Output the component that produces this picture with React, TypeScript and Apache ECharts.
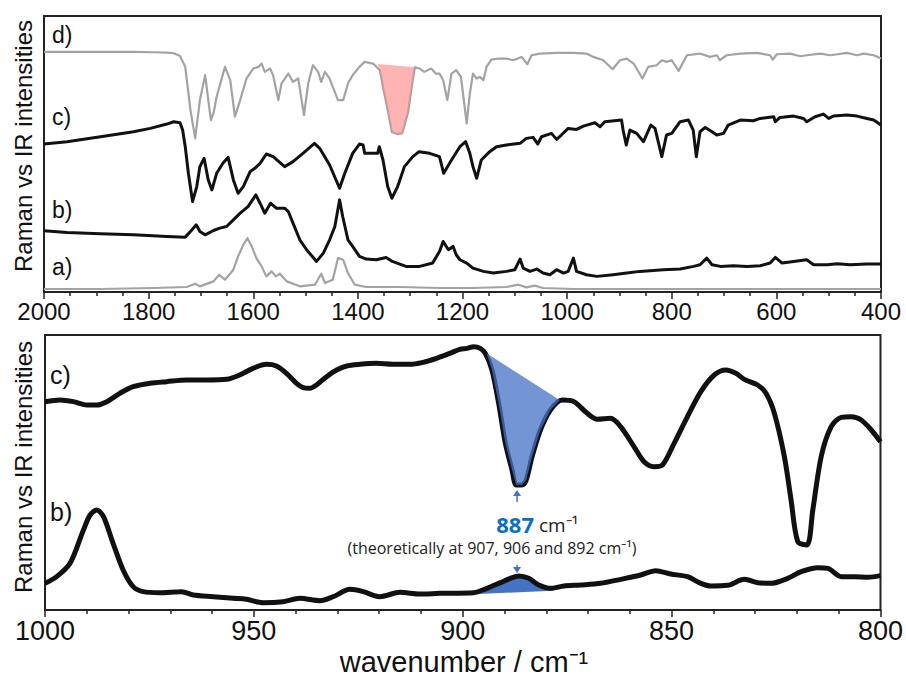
import React, { useEffect, useRef } from "react";
import * as echarts from "echarts";

// ---------- top panel (2000-400 cm-1), arbitrary intensity units ----------
const TOP_X_TICKS = { min: 400, max: 2000, interval: 200 };
const BOTTOM_X_TICKS = { min: 800, max: 1000, interval: 50 };

const topD: [number, number][] = [
  [2000,722],[1900,722],[1828,722],[1790,721],[1765,720],[1752,718],[1740,710],[1730,677],[1720,547],[1711,462],
  [1702,577],[1692,652],[1681,517],[1676,537],[1670,587],[1654,677],[1644,637],[1635,527],[1625,577],[1613,642],
  [1600,672],[1590,677],[1584,687],[1578,662],[1568,672],[1562,652],[1552,577],[1546,627],[1533,657],[1524,632],
  [1514,642],[1503,532],[1495,627],[1486,682],[1476,662],[1470,632],[1463,662],[1454,642],[1448,617],[1438,577],
  [1428,577],[1419,627],[1410,652],[1397,677],[1387,692],[1371,687],[1358,667],[1352,616],[1344,556],[1335,481],
  [1325,475],[1315,478],[1304,541],[1296,628],[1291,676],[1282,672],[1273,662],[1260,672],[1251,657],[1244,657],
  [1237,637],[1229,577],[1221,657],[1212,667],[1203,647],[1192,507],[1186,597],[1180,657],[1173,642],[1167,647],
  [1160,637],[1154,677],[1145,699],[1132,702],[1116,702],[1103,697],[1087,707],[1076,685],[1068,712],[1052,717],
  [1020,719],[988,719],[963,717],[950,707],[931,697],[913,670],[899,697],[886,702],[873,687],[856,642],
  [845,677],[829,682],[819,697],[810,692],[800,697],[787,665],[771,712],[746,717],[727,707],[714,712],
  [708,697],[695,712],[669,717],[637,719],[612,712],[607,699],[599,715],[574,717],[554,709],[542,712],
  [516,717],[497,712],[465,719],[446,712],[433,717],[414,712],[400,702]
];

const topC: [number, number][] = [
  [2000,445],[1956,452],[1892,467],[1829,482],[1797,492],[1765,505],[1752,512],[1740,509],[1735,487],[1730,437],
  [1724,357],[1716,272],[1708,317],[1702,377],[1694,402],[1686,337],[1679,307],[1670,357],[1658,387],[1648,405],
  [1638,337],[1629,297],[1619,317],[1606,362],[1597,372],[1587,387],[1575,415],[1562,407],[1540,377],[1524,392],
  [1505,417],[1483,447],[1473,432],[1454,382],[1435,312],[1425,357],[1410,417],[1397,445],[1390,442],[1387,417],
  [1362,417],[1359,437],[1352,397],[1343,317],[1335,282],[1324,317],[1311,377],[1295,407],[1283,422],[1263,417],
  [1244,407],[1236,357],[1221,397],[1205,437],[1194,452],[1186,417],[1180,377],[1173,342],[1164,397],[1148,422],
  [1135,437],[1116,442],[1090,447],[1078,462],[1065,465],[1056,445],[1049,467],[1030,477],[1020,459],[1011,472],
  [998,492],[982,489],[969,499],[947,509],[937,497],[928,512],[896,517],[893,487],[887,442],[880,487],
  [867,477],[854,452],[840,502],[832,492],[819,407],[810,472],[800,477],[784,512],[768,517],[759,487],
  [753,407],[746,482],[736,495],[723,482],[714,472],[701,477],[692,502],[669,517],[644,515],[631,522],
  [605,527],[602,512],[593,525],[567,529],[548,522],[542,512],[526,527],[510,535],[500,522],[491,529],
  [465,532],[446,529],[427,522],[414,517],[400,502]
];

const topB: [number, number][] = [
  [2000,184],[1956,179],[1892,175],[1829,172],[1765,167],[1730,165],[1717,187],[1709,202],[1702,182],[1692,172],
  [1676,185],[1664,192],[1651,197],[1638,217],[1625,237],[1610,257],[1595,292],[1587,267],[1578,237],[1567,267],
  [1556,252],[1540,252],[1533,242],[1524,207],[1511,157],[1498,127],[1479,92],[1466,117],[1454,157],[1444,197],
  [1435,277],[1429,227],[1419,157],[1410,137],[1397,107],[1384,99],[1365,97],[1346,104],[1334,92],[1308,77],
  [1282,77],[1257,87],[1244,122],[1237,152],[1227,127],[1218,137],[1212,112],[1205,97],[1192,87],[1180,72],
  [1160,62],[1141,57],[1116,62],[1100,67],[1090,99],[1084,72],[1071,62],[1058,69],[1046,57],[1033,52],
  [1020,67],[1007,57],[998,62],[988,102],[982,62],[963,52],[943,47],[912,52],[886,57],[861,62],
  [816,67],[784,69],[758,77],[746,82],[733,102],[723,82],[707,77],[682,79],[656,77],[631,79],
  [612,87],[602,104],[589,87],[567,92],[542,97],[529,82],[503,82],[484,85],[459,82],[427,84],[400,84]
];

const topA: [number, number][] = [
  [2000,9],[1892,9],[1790,12],[1727,15],[1711,25],[1702,17],[1676,32],[1665,52],[1654,37],[1638,67],
  [1629,107],[1619,142],[1611,162],[1603,137],[1594,102],[1584,77],[1575,47],[1565,62],[1557,47],[1549,55],
  [1536,32],[1511,17],[1482,22],[1470,55],[1463,27],[1448,37],[1438,102],[1428,97],[1419,57],[1406,22],
  [1384,15],[1320,15],[1244,12],[1180,12],[1116,15],[1093,22],[1078,14],[1062,19],[1046,12],[988,9],
  [861,9],[733,9],[605,9],[400,9]
];

// chord that closes the red highlighted IR band (start, end)
const redChord: [number, number][] = [[1363, 686], [1291, 676]];

// ---------- bottom panel (1000-800 cm-1) ----------
const bottomC: [number, number][] = [
  [1000,625],[996.4,630],[993.2,625],[990,615],[987.6,615],[985.2,625],[982.1,650],[978.9,670],[974.9,680],[970.9,685],
  [966.1,690],[961.3,690],[956.5,692],[953.4,705],[950.2,725],[947,737],[944.6,732],[942.2,710],[939.8,680],[938.2,667],
  [936.6,665],[935,675],[932.6,700],[930.2,720],[927.8,732],[924.6,737],[920.7,740],[916.7,737],[912.7,737],[909.5,743],
  [906.3,755],[903.1,770],[900.7,782],[899,785],[897.4,790],[895.8,785],[894.6,770],[893,720],[891.4,620],[889.8,500],
  [888.2,420],[887.2,375],[885.8,375],[884.8,390],[883.4,460],[881.4,540],[879,600],[876.2,630],[873.4,625],[870.2,590],
  [867.8,572],[864.6,575],[862.2,550],[859,490],[856.6,445],[854.2,430],[852.2,435],[849.4,500],[846.2,580],[843,655],
  [839.8,705],[837,720],[834.6,710],[832.6,692],[829.4,675],[827.4,650],[825.4,590],[823,460],[821.4,330],[819.8,205],
  [817.6,195],[816.2,300],[814.2,460],[811.8,550],[809.4,578],[807,580],[804.6,570],[802.2,540],[800,505]
];

const bottomB: [number, number][] = [
  [1000,80],[997.2,100],[994,140],[990.8,240],[989.2,285],[987.6,300],[986,280],[983.7,200],[981.3,120],[978.9,70],
  [976.5,55],[972.5,52],[967.3,55],[964.5,45],[959.7,40],[954.9,35],[951.8,32],[947.8,22],[943,25],[939,35],
  [934.2,28],[931,40],[927,62],[923.8,55],[919.9,40],[915,53],[910.3,48],[905.5,50],[897.4,52],[894.2,65],
  [891,82],[888.6,95],[886.6,102],[884.2,95],[881.8,75],[879,65],[875.8,72],[871.8,75],[867,80],[862.2,92],
  [857.4,105],[853.8,118],[850.2,108],[846.2,100],[843,80],[840.6,72],[836.6,74],[832.6,92],[829.4,82],[826.2,80],
  [822.2,95],[819,115],[815,127],[812.6,125],[809.4,100],[806.2,100],[803,98],[800,103]
];

const blueChordC: [number, number][] = [[894.3, 770], [876.8, 630]];
const blueChordB: [number, number][] = [[896.3, 48], [878.4, 58]];

// arrows: [wavenumber, tip value, tail value]
const arrows: [number, number, number][] = [[887, 360, 324], [887, 111, 135]];

const topLabels = ["d)", "c)", "b)", "a)"];
const bottomLabels = ["c)", "b)"];
const yTitle = "Raman vs IR intensities";
const xTitle = "wavenumber / cm\u207B\u00B9";
const peakValue = "887";
const peakNote = "(theoretically at 907, 906 and 892 cm\u207B\u00B9)";

const AX_FONT = "Liberation Sans";
const NOTE_FONT = "Open Sans";

function bandPolygon(chord: [number, number][], curve: [number, number][]) {
  const [s, e] = chord;
  const hi = Math.max(s[0], e[0]);
  const lo = Math.min(s[0], e[0]);
  const inner = curve.filter((p) => p[0] < hi && p[0] > lo);
  return [s, ...inner, e];
}

function fillSeries(chord: [number, number][], curve: [number, number][], idx: number, color: string, z: number) {
  const poly = bandPolygon(chord, curve);
  return {
    type: "custom",
    coordinateSystem: "cartesian2d",
    xAxisIndex: idx,
    yAxisIndex: idx,
    z,
    silent: true,
    data: [chord[0]],
    renderItem: (_p: any, api: any) => ({
      type: "polygon",
      shape: { points: poly.map((p) => api.coord(p)) },
      style: { fill: color },
    }),
  };
}

function xAxisCfg(grid: number, t: { min: number; max: number; interval: number }, minorSplit: number, fs: number) {
  return {
    gridIndex: grid,
    type: "value",
    inverse: true,
    min: t.min,
    max: t.max,
    interval: t.interval,
    axisLine: { show: true, onZero: false, lineStyle: { color: "#222", width: 2 } },
    axisTick: { show: true, inside: false, length: 7, lineStyle: { color: "#222", width: 1.5 } },
    minorTick: { show: true, splitNumber: minorSplit, length: 4, lineStyle: { color: "#222", width: 1.5 } },
    splitLine: { show: false },
    minorSplitLine: { show: false },
    axisLabel: { fontSize: fs, color: "#111", fontFamily: AX_FONT, margin: 7, formatter: (v: number) => String(v) },
  };
}

export default function App() {
  const ref = useRef<HTMLDivElement>(null);
  useEffect(() => {
    if (!ref.current) return;
    const chart = echarts.init(ref.current, null, { renderer: "svg" });
    const lineS = (data: [number, number][], idx: number, color: string, width: number, smooth: boolean | number, z: number) => ({
      type: "line",
      xAxisIndex: idx,
      yAxisIndex: idx,
      data,
      symbol: "none",
      smooth,
      z,
      silent: true,
      lineStyle: { color, width, join: "round" },
    });
    const topLabelY = [35, 117, 210, 267];
    const botLabelY = [375, 512];
    const graphics: any[] = [];
    topLabels.forEach((t, i) =>
      graphics.push({ type: "text", x: 52, y: topLabelY[i], style: { text: t, fontSize: 23, fontFamily: AX_FONT, fill: "#111", verticalAlign: "middle" } })
    );
    bottomLabels.forEach((t, i) =>
      graphics.push({ type: "text", x: 50, y: botLabelY[i], style: { text: t, fontSize: 25, fontFamily: AX_FONT, fill: "#111", verticalAlign: "middle" } })
    );
    graphics.push({ type: "text", x: 23, y: 146, rotation: Math.PI / 2, style: { text: yTitle, fontSize: 24, fontFamily: AX_FONT, fill: "#111", align: "center", verticalAlign: "middle" } });
    graphics.push({ type: "text", x: 23, y: 467, rotation: Math.PI / 2, style: { text: yTitle, fontSize: 24, fontFamily: AX_FONT, fill: "#111", align: "center", verticalAlign: "middle" } });
    graphics.push({ type: "text", x: 464, y: 662, style: { text: xTitle, fontSize: 29, fontFamily: AX_FONT, fill: "#111", align: "center", verticalAlign: "middle" } });
    graphics.push({ type: "text", x: 534, y: 524, style: { text: peakValue, fontSize: 22, fontWeight: "bold", fontFamily: NOTE_FONT, fill: "#0a6fc2", align: "right", verticalAlign: "middle" } });
    graphics.push({ type: "text", x: 539, y: 525, style: { text: "cm\u207B\u00B9", fontSize: 19, fontFamily: NOTE_FONT, fill: "#222", verticalAlign: "middle" } });
    graphics.push({ type: "text", x: 492, y: 548, style: { text: peakNote, fontSize: 16, fontFamily: NOTE_FONT, fill: "#222", align: "center", verticalAlign: "middle" } });

    chart.setOption({
      animation: false,
      backgroundColor: "#ffffff",
      grid: [
        { left: 44, top: 16, right: 25, height: 276, show: true, borderColor: "#222", borderWidth: 2, backgroundColor: "transparent" },
        { left: 45, top: 335, right: 25, height: 275, show: true, borderColor: "#222", borderWidth: 2, backgroundColor: "transparent" },
      ],
      xAxis: [xAxisCfg(0, TOP_X_TICKS, 4, 24), xAxisCfg(1, BOTTOM_X_TICKS, 5, 27)],
      yAxis: [
        { gridIndex: 0, type: "value", min: 0, max: 830, show: false },
        { gridIndex: 1, type: "value", min: 0, max: 825, show: false },
      ],
      series: [
        lineS(topD, 0, "#a3a3a3", 2.2, false, 2),
        lineS(topA, 0, "#a3a3a3", 2.2, false, 2),
        lineS(topC, 0, "#111", 3, false, 3),
        lineS(topB, 0, "#111", 3, false, 3),
        fillSeries(redChord, topD, 0, "rgba(255,140,140,0.65)", 4),
        fillSeries(blueChordB, bottomB, 1, "#4472c4", 2),
        lineS(bottomC, 1, "#111", 5, 0.3, 3),
        lineS(bottomB, 1, "#111", 5, 0.3, 3),
        fillSeries(blueChordC, bottomC, 1, "rgba(68,114,196,0.75)", 4),
        {
          type: "custom",
          coordinateSystem: "cartesian2d",
          xAxisIndex: 1,
          yAxisIndex: 1,
          z: 6,
          silent: true,
          data: arrows,
          renderItem: (_p: any, api: any) => {
            const tip = api.coord([api.value(0), api.value(1)]);
            const tail = api.coord([api.value(0), api.value(2)]);
            const dir = tail[1] > tip[1] ? 1 : -1;
            const base = tip[1] + dir * 6;
            return {
              type: "group",
              children: [
                { type: "line", shape: { x1: tip[0], y1: base, x2: tail[0], y2: tail[1] }, style: { stroke: "#4472c4", lineWidth: 1.5 } },
                { type: "polygon", shape: { points: [[tip[0], tip[1]], [tip[0] - 4, base], [tip[0] + 4, base]] }, style: { fill: "#4472c4" } },
              ],
            };
          },
        },
      ],
      graphic: graphics,
    });
    return () => chart.dispose();
  }, []);
  return <div ref={ref} style={{ position: "fixed", left: 0, top: 0, width: 906, height: 682, background: "#fff" }} />;
}
